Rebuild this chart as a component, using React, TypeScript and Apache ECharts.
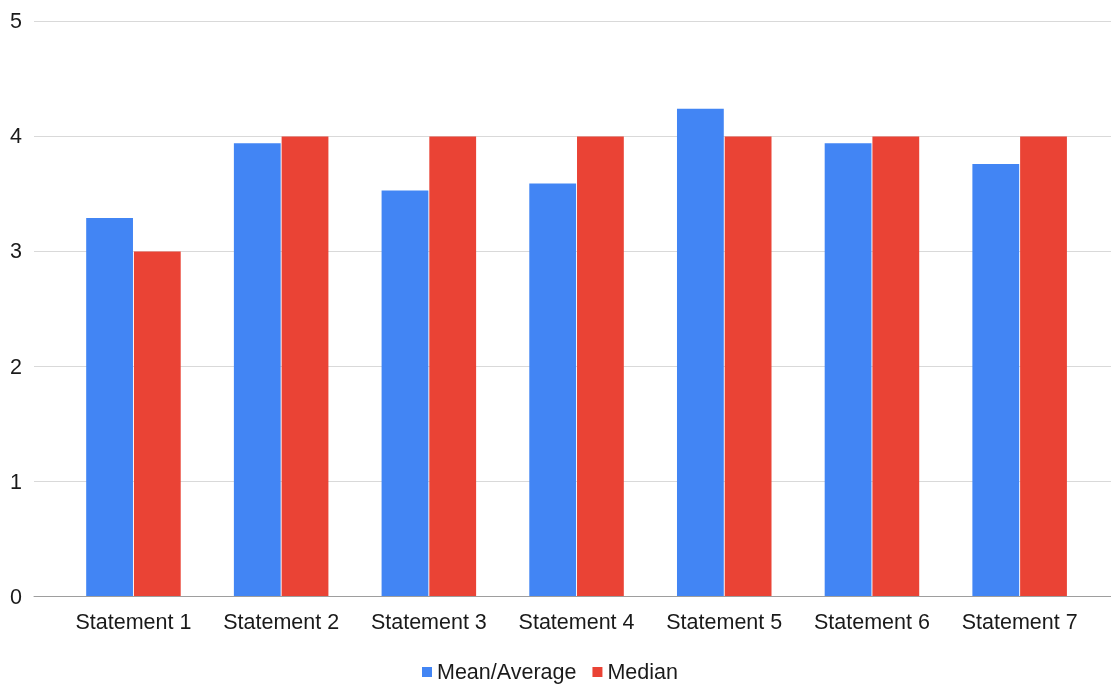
import React, { useEffect, useRef } from "react";
import * as echarts from "echarts";

const categories = [
  "Statement 1",
  "Statement 2",
  "Statement 3",
  "Statement 4",
  "Statement 5",
  "Statement 6",
  "Statement 7",
];
const meanValues = [3.29, 3.94, 3.53, 3.59, 4.24, 3.94, 3.76];
const medianValues = [3, 4, 4, 4, 4, 4, 4];
const seriesNames = ["Mean/Average", "Median"];

const FONT = "Liberation Sans, Arial, sans-serif";

export default function App() {
  const ref = useRef<HTMLDivElement>(null);
  useEffect(() => {
    if (!ref.current) return;
    const chart = echarts.init(ref.current, null, { renderer: "svg" });
    chart.setOption({
      animation: false,
      textStyle: { fontFamily: FONT },
      legend: {
        data: seriesNames,
        left: 422,
        top: 661,
        padding: 0,
        icon: "rect",
        itemWidth: 10,
        itemHeight: 10,
        itemGap: 16,
        textStyle: { fontSize: 21.5, color: "#1a1a1a", fontFamily: FONT },
      },
      grid: [
        { left: 34, right: 0, top: 21.3, bottom: 87.3 },
        { left: 59.6, right: 17.5, top: 21.3, bottom: 87.3 },
      ],
      xAxis: [
        {
          type: "category",
          gridIndex: 0,
          data: categories,
          z: 5,
          axisLine: { show: true, lineStyle: { color: "#9e9e9e", width: 1 } },
          axisTick: { show: false },
          axisLabel: { show: false },
          splitLine: { show: false },
        },
        {
          type: "category",
          gridIndex: 1,
          data: categories,
          axisLine: { show: false },
          axisTick: { show: false },
          axisLabel: {
            interval: 0,
            fontSize: 21.5,
            color: "#1a1a1a",
            margin: 14,
            fontFamily: FONT,
          },
        },
      ],
      yAxis: [
        {
          type: "value",
          gridIndex: 0,
          min: 0,
          max: 5,
          interval: 1,
          axisLine: { show: false },
          axisTick: { show: false },
          axisLabel: {
            fontSize: 21.5,
            color: "#1a1a1a",
            margin: 12,
            fontFamily: FONT,
          },
          splitLine: { show: true, lineStyle: { color: "#d9d9d9", width: 1 } },
        },
        {
          type: "value",
          gridIndex: 1,
          min: 0,
          max: 5,
          interval: 1,
          show: false,
          splitLine: { show: false },
        },
      ],
      series: [
        {
          name: seriesNames[0],
          type: "bar",
          xAxisIndex: 1,
          yAxisIndex: 1,
          data: meanValues,
          itemStyle: { color: "#4285F4" },
          barCategoryGap: "36%",
          barGap: "2%",
        },
        {
          name: seriesNames[1],
          type: "bar",
          xAxisIndex: 1,
          yAxisIndex: 1,
          data: medianValues,
          itemStyle: { color: "#EA4335" },
          barCategoryGap: "36%",
          barGap: "2%",
        },
      ],
    });
    return () => chart.dispose();
  }, []);
  return (
    <div
      ref={ref}
      style={{ position: "fixed", left: 0, top: 0, width: 1111, height: 684 }}
    />
  );
}
